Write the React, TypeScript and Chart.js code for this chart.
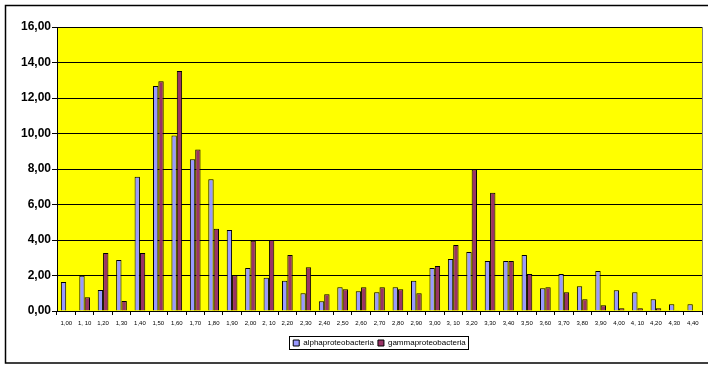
import React, { useEffect, useRef } from "react";
import { Chart, registerables } from "chart.js";

Chart.register(...registerables);

const categories = [
  "1,00", "1, 10", "1,20", "1,30", "1,40", "1,50", "1,60", "1,70", "1,80", "1,90",
  "2,00", "2, 10", "2,20", "2,30", "2,40", "2,50", "2,60", "2,70", "2,80", "2,90",
  "3,00", "3, 10", "3,20", "3,30", "3,40", "3,50", "3,60", "3,70", "3,80", "3,90",
  "4,00", "4, 10", "4,20", "4,30", "4,40",
];

const alphaproteobacteria = [
  1.64, 1.98, 1.19, 2.87, 7.57, 12.68, 9.89, 8.55, 7.42, 4.57,
  2.42, 1.87, 1.7, 1.0, 0.55, 1.34, 1.11, 1.06, 1.34, 1.7,
  2.42, 2.93, 3.32, 2.81, 2.81, 3.15, 1.28, 2.08, 1.4, 2.25,
  1.17, 1.06, 0.66, 0.38, 0.38,
];

const gammaproteobacteria = [
  0, 0.78, 3.27, 0.57, 3.27, 12.95, 13.52, 9.1, 4.63, 2.02,
  3.96, 4.0, 3.15, 2.47, 0.94, 1.23, 1.34, 1.34, 1.23, 1.0,
  2.53, 3.72, 7.97, 6.66, 2.81, 2.08, 1.34, 1.06, 0.66, 0.32,
  0.15, 0.15, 0.15, 0.04, 0,
];

const seriesNames = ["alphaproteobacteria", "gammaproteobacteria"];
const yMin = 0;
const yMax = 16;
const yStep = 2;

const FONT = "Arial, 'Liberation Sans', sans-serif";

const framePlugin = {
  id: "frame",
  beforeDraw(chart: any) {
    const { ctx, chartArea } = chart;
    ctx.save();
    ctx.fillStyle = "#ffffff";
    ctx.fillRect(0, 0, chart.width, chart.height);
    ctx.fillStyle = "#ffff00";
    ctx.fillRect(chartArea.left, chartArea.top, chartArea.right - chartArea.left, chartArea.bottom - chartArea.top);
    ctx.restore();
  },
  afterDraw(chart: any) {
    const { ctx, chartArea } = chart;
    ctx.save();
    ctx.strokeStyle = "#808080";
    ctx.lineWidth = 1;
    ctx.beginPath();
    ctx.moveTo(chartArea.right + 0.5, chartArea.top);
    ctx.lineTo(chartArea.right + 0.5, chartArea.bottom);
    ctx.stroke();
    ctx.strokeStyle = "#000000";
    ctx.lineWidth = 1.5;
    ctx.strokeRect(5.5, 5.5, chart.width + 20, 357.5);
    const lg = chart.legend;
    if (lg && lg.legendHitBoxes && lg.legendHitBoxes.length) {
      const boxes = lg.legendHitBoxes;
      let l = Infinity, t = Infinity, r = -Infinity, b = -Infinity;
      boxes.forEach((bx: any) => {
        l = Math.min(l, bx.left);
        t = Math.min(t, bx.top);
        r = Math.max(r, bx.left + bx.width);
        b = Math.max(b, bx.top + bx.height);
      });
      ctx.lineWidth = 1;
      ctx.strokeRect(Math.round(l - 4) + 0.5, Math.round(t - 3) + 0.5, Math.round(r - l + 6), Math.round(b - t + 5));
    }
    ctx.restore();
  },
};

export default function App() {
  const ref = useRef<HTMLCanvasElement>(null);
  useEffect(() => {
    if (!ref.current) return;
    const chart = new Chart(ref.current, {
      type: "bar",
      data: {
        labels: categories,
        datasets: [
          {
            label: seriesNames[0],
            data: alphaproteobacteria,
            backgroundColor: "#9999ff",
            borderColor: "#000000",
            borderWidth: 1,
          },
          {
            label: seriesNames[1],
            data: gammaproteobacteria,
            backgroundColor: "#993366",
            borderColor: "#000000",
            borderWidth: 1,
          },
        ],
      },
      options: {
        responsive: false,
        animation: false,
        devicePixelRatio: 1,
        layout: { padding: { left: 0, top: 27, right: 6, bottom: 12 } },
        datasets: { bar: { categoryPercentage: 0.58, barPercentage: 1 } },
        plugins: {
          legend: {
            position: "bottom",
            fullSize: false,
            labels: {
              boxWidth: 6,
              boxHeight: 6,
              padding: 4,
              color: "#000",
              font: { family: FONT, size: 8 },
            },
          },
          tooltip: { enabled: false },
          title: { display: false },
        },
        scales: {
          x: {
            afterFit(scale: any) {
              scale.height = 24;
            },
            grid: { drawOnChartArea: false, tickLength: 4, color: "#000", offset: true },
            border: { color: "#000", width: 1 },
            ticks: {
              autoSkip: false,
              maxRotation: 0,
              minRotation: 0,
              padding: 5,
              color: "#000",
              font: { family: FONT, size: 6 },
            },
          },
          y: {
            min: yMin,
            max: yMax,
            afterFit(scale: any) {
              scale.width = 57;
            },
            grid: { color: "#000", lineWidth: 1, tickLength: 5 },
            border: { color: "#000", width: 1 },
            ticks: {
              stepSize: yStep,
              padding: 1,
              color: "#000",
              font: { family: FONT, size: 12, weight: "bold" },
              callback: (v: any) => Number(v).toFixed(2).replace(".", ","),
            },
          },
        },
      },
      plugins: [framePlugin],
    });
    return () => chart.destroy();
  }, []);
  return (
    <div style={{ position: "absolute", left: 0, top: 0, width: 708, height: 369, overflow: "hidden", background: "#fff" }}>
      <canvas ref={ref} width={708} height={369} style={{ display: "block" }} />
    </div>
  );
}
